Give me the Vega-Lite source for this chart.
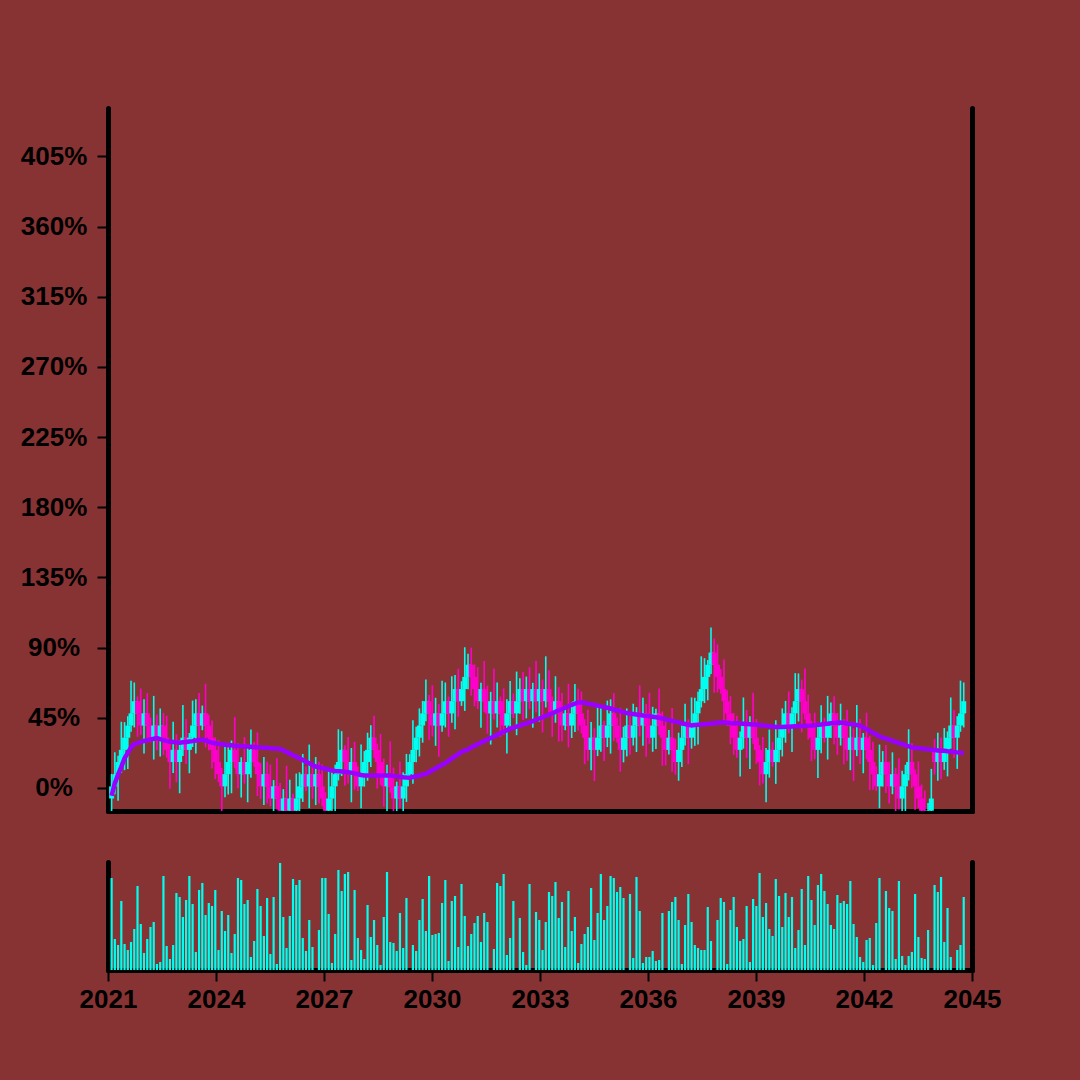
{
"$schema": "https://vega.github.io/schema/vega-lite/v6.json",
"background": "#883333",
"padding": {"left": 20, "top": 108, "right": 90, "bottom": 84},
"config": {
  "view": {"stroke": null},
  "axis": {"domainColor": "black", "domainWidth": 5, "domainCap": "round", "tickColor": "black", "tickWidth": 2, "tickSize": 11, "labelFont": "Liberation Sans", "labelFontWeight": "bold", "labelFontSize": 26, "labelColor": "black", "grid": false, "title": null, "zindex": 1, "labelFlush": false, "labelOverlap": false}
},
"datasets": {"d": [
{"t":2021.1,"o":-6.8,"c":1.0,"h":9.0,"l":-17.8,"v":92,"m":-5},
{"t":2021.19,"o":1.0,"c":8.8,"h":22.8,"l":-4.0,"v":31,"m":3},
{"t":2021.28,"o":8.8,"c":16.6,"h":20.6,"l":-8.2,"v":25,"m":8.5},
{"t":2021.37,"o":16.6,"c":24.4,"h":42.4,"l":9.6,"v":69,"m":13.5},
{"t":2021.46,"o":24.4,"c":32.2,"h":42.2,"l":11.4,"v":26,"m":19},
{"t":2021.55,"o":32.2,"c":40.0,"h":46.0,"l":12.2,"v":20,"m":22.5},
{"t":2021.64,"o":40.0,"c":47.8,"h":68.8,"l":36.0,"v":28,"m":26},
{"t":2021.73,"o":47.8,"c":55.6,"h":67.6,"l":38.8,"v":41,"m":28},
{"t":2021.82,"o":55.6,"c":47.8,"h":58.6,"l":32.8,"v":84,"m":28.8},
{"t":2021.91,"o":47.8,"c":40.0,"h":63.8,"l":34.0,"v":46,"m":29.5},
{"t":2022.0,"o":40.0,"c":47.8,"h":56.8,"l":22.0,"v":17,"m":30.1},
{"t":2022.09,"o":47.8,"c":40.0,"h":60.8,"l":30.0,"v":31,"m":30.6},
{"t":2022.18,"o":40.0,"c":32.2,"h":45.0,"l":29.2,"v":43,"m":31.1},
{"t":2022.27,"o":32.2,"c":40.0,"h":59.0,"l":18.2,"v":48,"m":31.5},
{"t":2022.36,"o":40.0,"c":32.2,"h":47.0,"l":24.2,"v":6,"m":32},
{"t":2022.45,"o":32.2,"c":40.0,"h":51.0,"l":20.2,"v":8,"m":31.3},
{"t":2022.54,"o":40.0,"c":32.2,"h":48.0,"l":21.2,"v":94,"m":30.7},
{"t":2022.63,"o":32.2,"c":24.4,"h":46.2,"l":19.4,"v":24,"m":30},
{"t":2022.72,"o":24.4,"c":16.6,"h":28.4,"l":-0.4,"v":11,"m":29.7},
{"t":2022.81,"o":16.6,"c":24.4,"h":42.4,"l":9.6,"v":25,"m":29.5},
{"t":2022.9,"o":24.4,"c":16.6,"h":34.4,"l":3.6,"v":77,"m":29.2},
{"t":2022.99,"o":16.6,"c":24.4,"h":30.4,"l":-3.4,"v":73,"m":29},
{"t":2023.08,"o":24.4,"c":32.2,"h":53.2,"l":20.4,"v":53,"m":29.3},
{"t":2023.17,"o":32.2,"c":24.4,"h":44.2,"l":15.4,"v":70,"m":29.5},
{"t":2023.26,"o":24.4,"c":32.2,"h":35.2,"l":9.4,"v":94,"m":29.8},
{"t":2023.35,"o":32.2,"c":40.0,"h":56.0,"l":26.2,"v":66,"m":30},
{"t":2023.44,"o":40.0,"c":47.8,"h":56.8,"l":22.0,"v":18,"m":30.4},
{"t":2023.53,"o":47.8,"c":40.0,"h":60.8,"l":30.0,"v":80,"m":30.7},
{"t":2023.62,"o":40.0,"c":47.8,"h":52.8,"l":37.0,"v":87,"m":31},
{"t":2023.71,"o":47.8,"c":40.0,"h":66.8,"l":26.0,"v":55,"m":30.4},
{"t":2023.8,"o":40.0,"c":32.2,"h":47.0,"l":24.2,"v":67,"m":29.7},
{"t":2023.89,"o":32.2,"c":24.4,"h":43.2,"l":12.4,"v":64,"m":29},
{"t":2023.98,"o":24.4,"c":16.6,"h":32.4,"l":5.6,"v":80,"m":28.7},
{"t":2024.07,"o":16.6,"c":8.8,"h":30.6,"l":3.8,"v":20,"m":28.3},
{"t":2024.16,"o":8.8,"c":1.0,"h":12.8,"l":-16.0,"v":59,"m":28},
{"t":2024.25,"o":1.0,"c":8.8,"h":26.8,"l":-6.0,"v":39,"m":27.7},
{"t":2024.34,"o":8.8,"c":16.6,"h":26.6,"l":-4.2,"v":55,"m":27.3},
{"t":2024.43,"o":16.6,"c":24.4,"h":30.4,"l":-3.4,"v":17,"m":27.3},
{"t":2024.52,"o":24.4,"c":16.6,"h":45.4,"l":12.6,"v":36,"m":27},
{"t":2024.61,"o":16.6,"c":8.8,"h":28.6,"l":-0.2,"v":92,"m":26.9},
{"t":2024.7,"o":8.8,"c":16.6,"h":19.6,"l":-6.2,"v":90,"m":26.8},
{"t":2024.79,"o":16.6,"c":8.8,"h":32.6,"l":2.8,"v":66,"m":26.6},
{"t":2024.88,"o":8.8,"c":16.6,"h":25.6,"l":-9.2,"v":70,"m":26.5},
{"t":2024.97,"o":16.6,"c":24.4,"h":37.4,"l":6.6,"v":13,"m":26.4},
{"t":2025.06,"o":24.4,"c":16.6,"h":29.4,"l":13.6,"v":29,"m":26.3},
{"t":2025.15,"o":16.6,"c":8.8,"h":35.6,"l":-5.2,"v":81,"m":26.1},
{"t":2025.24,"o":8.8,"c":1.0,"h":15.8,"l":-7.0,"v":64,"m":26},
{"t":2025.33,"o":1.0,"c":8.8,"h":19.8,"l":-11.0,"v":34,"m":25.8},
{"t":2025.42,"o":8.8,"c":1.0,"h":16.8,"l":-10.0,"v":72,"m":25.7},
{"t":2025.51,"o":1.0,"c":-6.8,"h":15.0,"l":-11.8,"v":16,"m":25.5},
{"t":2025.6,"o":-6.8,"c":1.0,"h":5.0,"l":-23.8,"v":73,"m":25.3},
{"t":2025.69,"o":1.0,"c":-6.8,"h":19.0,"l":-13.8,"v":6,"m":25.2},
{"t":2025.78,"o":-6.8,"c":-14.6,"h":3.2,"l":-27.6,"v":107,"m":25},
{"t":2025.87,"o":-14.6,"c":-6.8,"h":-0.8,"l":-34.6,"v":53,"m":24},
{"t":2025.96,"o":-6.8,"c":-14.6,"h":14.2,"l":-18.6,"v":22,"m":23},
{"t":2026.05,"o":-14.6,"c":-6.8,"h":5.2,"l":-23.6,"v":54,"m":22},
{"t":2026.14,"o":-6.8,"c":-14.6,"h":-3.8,"l":-29.6,"v":91,"m":21},
{"t":2026.23,"o":-14.6,"c":-6.8,"h":9.2,"l":-20.6,"v":85,"m":20},
{"t":2026.32,"o":-6.8,"c":1.0,"h":10.0,"l":-24.8,"v":90,"m":19},
{"t":2026.41,"o":1.0,"c":8.8,"h":21.8,"l":-9.0,"v":32,"m":17.9},
{"t":2026.5,"o":8.8,"c":1.0,"h":13.8,"l":-2.0,"v":19,"m":16.8},
{"t":2026.59,"o":1.0,"c":8.8,"h":27.8,"l":-13.0,"v":50,"m":15.8},
{"t":2026.68,"o":8.8,"c":1.0,"h":15.8,"l":-7.0,"v":23,"m":14.7},
{"t":2026.77,"o":1.0,"c":8.8,"h":19.8,"l":-11.0,"v":0,"m":13.7},
{"t":2026.86,"o":8.8,"c":1.0,"h":16.8,"l":-10.0,"v":40,"m":13.3},
{"t":2026.95,"o":1.0,"c":-6.8,"h":15.0,"l":-11.8,"v":92,"m":12.8},
{"t":2027.04,"o":-6.8,"c":-14.6,"h":-2.8,"l":-31.6,"v":92,"m":12.3},
{"t":2027.13,"o":-14.6,"c":-6.8,"h":11.2,"l":-21.6,"v":56,"m":11.8},
{"t":2027.22,"o":-6.8,"c":1.0,"h":11.0,"l":-19.8,"v":7,"m":11.2},
{"t":2027.31,"o":1.0,"c":8.8,"h":14.8,"l":-19.0,"v":36,"m":10.9},
{"t":2027.4,"o":8.8,"c":16.6,"h":37.6,"l":4.8,"v":100,"m":10.7},
{"t":2027.49,"o":16.6,"c":24.4,"h":36.4,"l":7.6,"v":79,"m":10.5},
{"t":2027.58,"o":24.4,"c":16.6,"h":27.4,"l":1.6,"v":96,"m":10.3},
{"t":2027.67,"o":16.6,"c":8.8,"h":32.6,"l":2.8,"v":98,"m":10.1},
{"t":2027.76,"o":8.8,"c":16.6,"h":25.6,"l":-9.2,"v":10,"m":9.8},
{"t":2027.85,"o":16.6,"c":8.8,"h":29.6,"l":-1.2,"v":80,"m":9.3},
{"t":2027.94,"o":8.8,"c":1.0,"h":13.8,"l":-2.0,"v":32,"m":8.8},
{"t":2028.03,"o":1.0,"c":8.8,"h":27.8,"l":-13.0,"v":20,"m":8.3},
{"t":2028.12,"o":8.8,"c":16.6,"h":23.6,"l":0.8,"v":11,"m":8},
{"t":2028.21,"o":16.6,"c":24.4,"h":35.4,"l":4.6,"v":65,"m":8},
{"t":2028.3,"o":24.4,"c":32.2,"h":40.2,"l":13.4,"v":33,"m":8},
{"t":2028.39,"o":32.2,"c":24.4,"h":46.2,"l":19.4,"v":50,"m":8},
{"t":2028.48,"o":24.4,"c":16.6,"h":28.4,"l":-0.4,"v":25,"m":8},
{"t":2028.57,"o":16.6,"c":8.8,"h":34.6,"l":1.8,"v":5,"m":8},
{"t":2028.66,"o":8.8,"c":1.0,"h":18.8,"l":-12.0,"v":53,"m":8},
{"t":2028.75,"o":1.0,"c":8.8,"h":14.8,"l":-19.0,"v":98,"m":8},
{"t":2028.84,"o":8.8,"c":1.0,"h":29.8,"l":-3.0,"v":28,"m":7.9},
{"t":2028.93,"o":1.0,"c":-6.8,"h":13.0,"l":-15.8,"v":27,"m":7.7},
{"t":2029.02,"o":-6.8,"c":1.0,"h":4.0,"l":-21.8,"v":19,"m":7.4},
{"t":2029.11,"o":1.0,"c":-6.8,"h":17.0,"l":-12.8,"v":57,"m":7.2},
{"t":2029.2,"o":-6.8,"c":1.0,"h":10.0,"l":-24.8,"v":22,"m":6.9},
{"t":2029.29,"o":1.0,"c":8.8,"h":21.8,"l":-9.0,"v":72,"m":6.7},
{"t":2029.38,"o":8.8,"c":16.6,"h":21.6,"l":5.8,"v":0,"m":6.6},
{"t":2029.47,"o":16.6,"c":24.4,"h":43.4,"l":2.6,"v":25,"m":7.0},
{"t":2029.56,"o":24.4,"c":32.2,"h":39.2,"l":16.4,"v":19,"m":7.5},
{"t":2029.65,"o":32.2,"c":40.0,"h":51.0,"l":20.2,"v":50,"m":8},
{"t":2029.74,"o":40.0,"c":47.8,"h":55.8,"l":29.0,"v":71,"m":8.5},
{"t":2029.83,"o":47.8,"c":55.6,"h":69.6,"l":42.8,"v":39,"m":9},
{"t":2029.92,"o":55.6,"c":47.8,"h":59.6,"l":30.8,"v":94,"m":10.2},
{"t":2030.01,"o":47.8,"c":40.0,"h":65.8,"l":33.0,"v":35,"m":11.3},
{"t":2030.1,"o":40.0,"c":47.8,"h":57.8,"l":27.0,"v":36,"m":12.5},
{"t":2030.19,"o":47.8,"c":40.0,"h":53.8,"l":20.0,"v":37,"m":13.7},
{"t":2030.28,"o":40.0,"c":47.8,"h":68.8,"l":36.0,"v":67,"m":14.8},
{"t":2030.37,"o":47.8,"c":55.6,"h":67.6,"l":38.8,"v":90,"m":16},
{"t":2030.46,"o":55.6,"c":47.8,"h":58.6,"l":32.8,"v":9,"m":17.4},
{"t":2030.55,"o":47.8,"c":55.6,"h":71.6,"l":41.8,"v":69,"m":18.9},
{"t":2030.64,"o":55.6,"c":63.4,"h":72.4,"l":37.6,"v":74,"m":20.3},
{"t":2030.73,"o":63.4,"c":55.6,"h":76.4,"l":45.6,"v":23,"m":21.7},
{"t":2030.82,"o":55.6,"c":63.4,"h":68.4,"l":52.6,"v":86,"m":23.1},
{"t":2030.91,"o":63.4,"c":71.2,"h":90.2,"l":49.4,"v":54,"m":23.9},
{"t":2031.0,"o":71.2,"c":79.0,"h":86.0,"l":63.2,"v":24,"m":24.6},
{"t":2031.09,"o":79.0,"c":71.2,"h":90.0,"l":59.2,"v":36,"m":26},
{"t":2031.18,"o":71.2,"c":63.4,"h":79.2,"l":52.4,"v":47,"m":27},
{"t":2031.27,"o":63.4,"c":55.6,"h":77.4,"l":50.6,"v":54,"m":28},
{"t":2031.36,"o":55.6,"c":63.4,"h":67.4,"l":38.6,"v":28,"m":29},
{"t":2031.45,"o":63.4,"c":55.6,"h":81.4,"l":48.6,"v":57,"m":30},
{"t":2031.54,"o":55.6,"c":47.8,"h":65.6,"l":34.8,"v":48,"m":31},
{"t":2031.63,"o":47.8,"c":55.6,"h":61.6,"l":27.8,"v":0,"m":32},
{"t":2031.72,"o":55.6,"c":47.8,"h":76.6,"l":43.8,"v":21,"m":33},
{"t":2031.81,"o":47.8,"c":55.6,"h":67.6,"l":38.8,"v":87,"m":34},
{"t":2031.9,"o":55.6,"c":47.8,"h":58.6,"l":32.8,"v":84,"m":35},
{"t":2031.99,"o":47.8,"c":40.0,"h":63.8,"l":34.0,"v":96,"m":36},
{"t":2032.08,"o":40.0,"c":47.8,"h":56.8,"l":22.0,"v":15,"m":37},
{"t":2032.17,"o":47.8,"c":55.6,"h":68.6,"l":37.8,"v":32,"m":38},
{"t":2032.26,"o":55.6,"c":47.8,"h":60.6,"l":44.8,"v":69,"m":38.7},
{"t":2032.35,"o":47.8,"c":55.6,"h":74.6,"l":33.8,"v":0,"m":39.3},
{"t":2032.44,"o":55.6,"c":63.4,"h":70.4,"l":47.6,"v":52,"m":40},
{"t":2032.53,"o":63.4,"c":55.6,"h":74.4,"l":43.6,"v":18,"m":40.7},
{"t":2032.62,"o":55.6,"c":63.4,"h":71.4,"l":44.6,"v":5,"m":41.3},
{"t":2032.71,"o":63.4,"c":55.6,"h":77.4,"l":50.6,"v":86,"m":42},
{"t":2032.8,"o":55.6,"c":63.4,"h":67.4,"l":38.6,"v":0,"m":42.8},
{"t":2032.89,"o":63.4,"c":55.6,"h":81.4,"l":48.6,"v":58,"m":43.7},
{"t":2032.98,"o":55.6,"c":63.4,"h":73.4,"l":42.6,"v":50,"m":44.5},
{"t":2033.07,"o":63.4,"c":55.6,"h":69.4,"l":35.6,"v":20,"m":45.3},
{"t":2033.16,"o":55.6,"c":63.4,"h":84.4,"l":51.6,"v":48,"m":46.2},
{"t":2033.25,"o":63.4,"c":55.6,"h":75.4,"l":46.6,"v":78,"m":47},
{"t":2033.34,"o":55.6,"c":47.8,"h":58.6,"l":32.8,"v":74,"m":47.9},
{"t":2033.43,"o":47.8,"c":55.6,"h":71.6,"l":41.8,"v":88,"m":48.8},
{"t":2033.52,"o":55.6,"c":47.8,"h":64.6,"l":29.8,"v":52,"m":49.7},
{"t":2033.61,"o":47.8,"c":40.0,"h":60.8,"l":30.0,"v":68,"m":50.6},
{"t":2033.7,"o":40.0,"c":47.8,"h":52.8,"l":37.0,"v":23,"m":51.5},
{"t":2033.79,"o":47.8,"c":40.0,"h":66.8,"l":26.0,"v":79,"m":52.4},
{"t":2033.88,"o":40.0,"c":47.8,"h":54.8,"l":32.0,"v":39,"m":53.3},
{"t":2033.97,"o":47.8,"c":55.6,"h":66.6,"l":35.8,"v":53,"m":54},
{"t":2034.06,"o":55.6,"c":47.8,"h":63.6,"l":36.8,"v":7,"m":54.7},
{"t":2034.15,"o":47.8,"c":40.0,"h":61.8,"l":35.0,"v":26,"m":54.9},
{"t":2034.24,"o":40.0,"c":32.2,"h":44.0,"l":15.2,"v":36,"m":54.5},
{"t":2034.33,"o":32.2,"c":24.4,"h":50.2,"l":17.4,"v":43,"m":54},
{"t":2034.42,"o":24.4,"c":32.2,"h":42.2,"l":11.4,"v":82,"m":53.6},
{"t":2034.51,"o":32.2,"c":24.4,"h":38.2,"l":4.4,"v":30,"m":53.2},
{"t":2034.6,"o":24.4,"c":32.2,"h":53.2,"l":20.4,"v":57,"m":52.8},
{"t":2034.69,"o":32.2,"c":40.0,"h":52.0,"l":23.2,"v":96,"m":52.3},
{"t":2034.78,"o":40.0,"c":32.2,"h":43.0,"l":17.2,"v":50,"m":51.9},
{"t":2034.87,"o":32.2,"c":40.0,"h":56.0,"l":26.2,"v":64,"m":51.4},
{"t":2034.96,"o":40.0,"c":47.8,"h":56.8,"l":22.0,"v":94,"m":50.9},
{"t":2035.05,"o":47.8,"c":40.0,"h":60.8,"l":30.0,"v":92,"m":50.3},
{"t":2035.14,"o":40.0,"c":32.2,"h":45.0,"l":29.2,"v":78,"m":49.8},
{"t":2035.23,"o":32.2,"c":24.4,"h":51.2,"l":10.4,"v":83,"m":49.2},
{"t":2035.32,"o":24.4,"c":32.2,"h":39.2,"l":16.4,"v":72,"m":48.6},
{"t":2035.41,"o":32.2,"c":40.0,"h":51.0,"l":20.2,"v":0,"m":48},
{"t":2035.5,"o":40.0,"c":32.2,"h":48.0,"l":21.2,"v":76,"m":47.7},
{"t":2035.59,"o":32.2,"c":40.0,"h":54.0,"l":27.2,"v":12,"m":47.4},
{"t":2035.68,"o":40.0,"c":47.8,"h":51.8,"l":23.0,"v":93,"m":47.1},
{"t":2035.77,"o":47.8,"c":40.0,"h":65.8,"l":33.0,"v":59,"m":46.8},
{"t":2035.86,"o":40.0,"c":47.8,"h":57.8,"l":27.0,"v":7,"m":46.5},
{"t":2035.95,"o":47.8,"c":40.0,"h":53.8,"l":20.0,"v":13,"m":46.2},
{"t":2036.04,"o":40.0,"c":32.2,"h":61.0,"l":28.2,"v":13,"m":45.9},
{"t":2036.13,"o":32.2,"c":40.0,"h":52.0,"l":23.2,"v":19,"m":45.6},
{"t":2036.22,"o":40.0,"c":47.8,"h":50.8,"l":25.0,"v":9,"m":45.3},
{"t":2036.31,"o":47.8,"c":40.0,"h":63.8,"l":34.0,"v":10,"m":45},
{"t":2036.4,"o":40.0,"c":32.2,"h":49.0,"l":14.2,"v":57,"m":44.5},
{"t":2036.49,"o":32.2,"c":24.4,"h":45.2,"l":14.4,"v":0,"m":44},
{"t":2036.58,"o":24.4,"c":32.2,"h":37.2,"l":21.4,"v":59,"m":43.5},
{"t":2036.67,"o":32.2,"c":24.4,"h":51.2,"l":10.4,"v":68,"m":43},
{"t":2036.76,"o":24.4,"c":16.6,"h":31.4,"l":8.6,"v":73,"m":42.5},
{"t":2036.85,"o":16.6,"c":24.4,"h":35.4,"l":4.6,"v":50,"m":42},
{"t":2036.94,"o":24.4,"c":32.2,"h":40.2,"l":13.4,"v":6,"m":41.5},
{"t":2037.03,"o":32.2,"c":40.0,"h":54.0,"l":27.2,"v":45,"m":41},
{"t":2037.12,"o":40.0,"c":32.2,"h":44.0,"l":15.2,"v":76,"m":40.5},
{"t":2037.21,"o":32.2,"c":40.0,"h":58.0,"l":25.2,"v":48,"m":40},
{"t":2037.3,"o":40.0,"c":47.8,"h":57.8,"l":27.0,"v":25,"m":40.3},
{"t":2037.39,"o":47.8,"c":55.6,"h":61.6,"l":27.8,"v":22,"m":40.5},
{"t":2037.48,"o":55.6,"c":63.4,"h":84.4,"l":51.6,"v":20,"m":40.7},
{"t":2037.57,"o":63.4,"c":71.2,"h":83.2,"l":54.4,"v":20,"m":40.9},
{"t":2037.66,"o":71.2,"c":79.0,"h":82.0,"l":56.2,"v":63,"m":41},
{"t":2037.75,"o":79.0,"c":86.8,"h":102.8,"l":73.0,"v":29,"m":41.3},
{"t":2037.84,"o":86.8,"c":79.0,"h":95.8,"l":61.0,"v":0,"m":41.5},
{"t":2037.93,"o":79.0,"c":71.2,"h":92.0,"l":61.2,"v":50,"m":41.8},
{"t":2038.02,"o":71.2,"c":63.4,"h":76.2,"l":60.4,"v":72,"m":42},
{"t":2038.11,"o":63.4,"c":55.6,"h":82.4,"l":41.6,"v":68,"m":41.9},
{"t":2038.2,"o":55.6,"c":47.8,"h":62.6,"l":39.8,"v":6,"m":41.8},
{"t":2038.29,"o":47.8,"c":40.0,"h":58.8,"l":28.0,"v":60,"m":41.6},
{"t":2038.38,"o":40.0,"c":32.2,"h":48.0,"l":21.2,"v":73,"m":41.5},
{"t":2038.47,"o":32.2,"c":24.4,"h":46.2,"l":19.4,"v":43,"m":41.4},
{"t":2038.56,"o":24.4,"c":32.2,"h":36.2,"l":7.4,"v":29,"m":41.3},
{"t":2038.65,"o":32.2,"c":40.0,"h":58.0,"l":25.2,"v":31,"m":41.2},
{"t":2038.74,"o":40.0,"c":32.2,"h":50.0,"l":19.2,"v":64,"m":41},
{"t":2038.83,"o":32.2,"c":40.0,"h":46.0,"l":12.2,"v":8,"m":40.9},
{"t":2038.92,"o":40.0,"c":32.2,"h":61.0,"l":28.2,"v":71,"m":40.7},
{"t":2039.01,"o":32.2,"c":24.4,"h":44.2,"l":15.4,"v":64,"m":40.5},
{"t":2039.1,"o":24.4,"c":16.6,"h":27.4,"l":1.6,"v":97,"m":40.3},
{"t":2039.19,"o":16.6,"c":8.8,"h":32.6,"l":2.8,"v":53,"m":40.1},
{"t":2039.28,"o":8.8,"c":16.6,"h":25.6,"l":-9.2,"v":67,"m":39.8},
{"t":2039.37,"o":16.6,"c":24.4,"h":37.4,"l":6.6,"v":41,"m":39.6},
{"t":2039.46,"o":24.4,"c":16.6,"h":29.4,"l":13.6,"v":34,"m":39.4},
{"t":2039.55,"o":16.6,"c":24.4,"h":43.4,"l":2.6,"v":91,"m":39.1},
{"t":2039.64,"o":24.4,"c":32.2,"h":39.2,"l":16.4,"v":74,"m":39},
{"t":2039.73,"o":32.2,"c":40.0,"h":51.0,"l":20.2,"v":43,"m":39.1},
{"t":2039.82,"o":40.0,"c":47.8,"h":55.8,"l":29.0,"v":77,"m":39.2},
{"t":2039.91,"o":47.8,"c":40.0,"h":61.8,"l":35.0,"v":53,"m":39.3},
{"t":2040.0,"o":40.0,"c":47.8,"h":51.8,"l":23.0,"v":73,"m":39.4},
{"t":2040.09,"o":47.8,"c":55.6,"h":73.6,"l":40.8,"v":22,"m":39.5},
{"t":2040.18,"o":55.6,"c":63.4,"h":73.4,"l":42.6,"v":40,"m":39.6},
{"t":2040.27,"o":63.4,"c":55.6,"h":69.4,"l":35.6,"v":81,"m":39.7},
{"t":2040.36,"o":55.6,"c":47.8,"h":76.6,"l":43.8,"v":25,"m":39.8},
{"t":2040.45,"o":47.8,"c":40.0,"h":59.8,"l":31.0,"v":94,"m":39.9},
{"t":2040.54,"o":40.0,"c":32.2,"h":43.0,"l":17.2,"v":70,"m":40},
{"t":2040.63,"o":32.2,"c":24.4,"h":48.2,"l":18.4,"v":45,"m":40.2},
{"t":2040.72,"o":24.4,"c":32.2,"h":41.2,"l":6.4,"v":85,"m":40.5},
{"t":2040.81,"o":32.2,"c":40.0,"h":53.0,"l":22.2,"v":96,"m":40.7},
{"t":2040.9,"o":40.0,"c":32.2,"h":45.0,"l":29.2,"v":79,"m":41},
{"t":2040.99,"o":32.2,"c":40.0,"h":59.0,"l":18.2,"v":66,"m":41.2},
{"t":2041.08,"o":40.0,"c":47.8,"h":54.8,"l":32.0,"v":45,"m":41.4},
{"t":2041.17,"o":47.8,"c":40.0,"h":58.8,"l":28.0,"v":41,"m":41.6},
{"t":2041.26,"o":40.0,"c":32.2,"h":48.0,"l":21.2,"v":75,"m":41.8},
{"t":2041.35,"o":32.2,"c":40.0,"h":54.0,"l":27.2,"v":67,"m":42},
{"t":2041.44,"o":40.0,"c":32.2,"h":44.0,"l":15.2,"v":69,"m":41.7},
{"t":2041.53,"o":32.2,"c":24.4,"h":50.2,"l":17.4,"v":66,"m":41.3},
{"t":2041.62,"o":24.4,"c":32.2,"h":42.2,"l":11.4,"v":89,"m":41},
{"t":2041.71,"o":32.2,"c":24.4,"h":38.2,"l":4.4,"v":46,"m":40.7},
{"t":2041.8,"o":24.4,"c":32.2,"h":53.2,"l":20.4,"v":33,"m":40.3},
{"t":2041.89,"o":32.2,"c":24.4,"h":44.2,"l":15.4,"v":13,"m":40},
{"t":2041.98,"o":24.4,"c":32.2,"h":35.2,"l":9.4,"v":8,"m":38.8},
{"t":2042.07,"o":32.2,"c":24.4,"h":48.2,"l":18.4,"v":30,"m":37.7},
{"t":2042.16,"o":24.4,"c":16.6,"h":33.4,"l":-1.4,"v":32,"m":36.5},
{"t":2042.25,"o":16.6,"c":8.8,"h":29.6,"l":-1.2,"v":5,"m":35.3},
{"t":2042.34,"o":8.8,"c":1.0,"h":13.8,"l":-2.0,"v":47,"m":34.2},
{"t":2042.43,"o":1.0,"c":8.8,"h":27.8,"l":-13.0,"v":92,"m":33},
{"t":2042.52,"o":8.8,"c":16.6,"h":23.6,"l":0.8,"v":0,"m":32.3},
{"t":2042.61,"o":16.6,"c":8.8,"h":27.6,"l":-3.2,"v":79,"m":31.6},
{"t":2042.7,"o":8.8,"c":1.0,"h":16.8,"l":-10.0,"v":62,"m":30.9},
{"t":2042.79,"o":1.0,"c":8.8,"h":22.8,"l":-4.0,"v":59,"m":30.2},
{"t":2042.88,"o":8.8,"c":1.0,"h":12.8,"l":-16.0,"v":11,"m":29.5},
{"t":2042.97,"o":1.0,"c":-6.8,"h":19.0,"l":-13.8,"v":89,"m":28.8},
{"t":2043.06,"o":-6.8,"c":1.0,"h":11.0,"l":-19.8,"v":14,"m":28.1},
{"t":2043.15,"o":1.0,"c":8.8,"h":14.8,"l":-19.0,"v":5,"m":27.4},
{"t":2043.24,"o":8.8,"c":16.6,"h":37.6,"l":4.8,"v":14,"m":26.7},
{"t":2043.33,"o":16.6,"c":8.8,"h":28.6,"l":-0.2,"v":18,"m":26},
{"t":2043.42,"o":8.8,"c":1.0,"h":11.8,"l":-14.0,"v":76,"m":25.8},
{"t":2043.51,"o":1.0,"c":-6.8,"h":17.0,"l":-12.8,"v":33,"m":25.5},
{"t":2043.6,"o":-6.8,"c":-14.6,"h":2.2,"l":-32.6,"v":12,"m":25.3},
{"t":2043.69,"o":-14.6,"c":-22.4,"h":-1.6,"l":-32.4,"v":11,"m":25},
{"t":2043.78,"o":-22.4,"c":-14.6,"h":-9.6,"l":-25.4,"v":40,"m":24.8},
{"t":2043.87,"o":-14.6,"c":-6.8,"h":12.2,"l":-28.6,"v":0,"m":24.5},
{"t":2043.96,"o":24.4,"c":16.6,"h":31.4,"l":8.6,"v":85,"m":24.3},
{"t":2044.05,"o":16.6,"c":24.4,"h":35.4,"l":4.6,"v":78,"m":24},
{"t":2044.14,"o":24.4,"c":16.6,"h":32.4,"l":5.6,"v":93,"m":23.9},
{"t":2044.23,"o":16.6,"c":24.4,"h":38.4,"l":11.6,"v":28,"m":23.8},
{"t":2044.32,"o":24.4,"c":32.2,"h":36.2,"l":7.4,"v":62,"m":23.5},
{"t":2044.41,"o":32.2,"c":40.0,"h":58.0,"l":25.2,"v":13,"m":23.3},
{"t":2044.5,"o":40.0,"c":32.2,"h":50.0,"l":19.2,"v":0,"m":23.1},
{"t":2044.59,"o":32.2,"c":40.0,"h":46.0,"l":12.2,"v":20,"m":22.8},
{"t":2044.68,"o":40.0,"c":47.8,"h":68.8,"l":36.0,"v":25,"m":22.6},
{"t":2044.77,"o":47.8,"c":55.6,"h":67.6,"l":38.8,"v":73,"m":22.3}
]},
"spacing": 49,
"vconcat": [
  {
    "width": 864, "height": 703,
    "data": {"name": "d"},
    "encoding": {
      "x": {"field": "t", "type": "quantitative", "scale": {"domain": [2021, 2045], "nice": false, "zero": false, "padding": 0}, "axis": {"labels": false, "ticks": false}}
    },
    "layer": [
      {
        "mark": {"type": "rule", "strokeWidth": 1.6, "clip": true},
        "encoding": {
          "y": {"field": "l", "type": "quantitative", "scale": {"domain": [-14.8, 436], "nice": false, "zero": false},
                "axis": {"values": [0, 45, 90, 135, 180, 225, 270, 315, 360, 405], "labelExpr": "datum.value + '%'", "labelAlign": "center", "labelPadding": 43.5}},
          "y2": {"field": "h"},
          "color": {"condition": {"test": "datum.c >= datum.o", "value": "#00ffee"}, "value": "#ff00cc"}
        }
      },
      {
        "mark": {"type": "bar", "size": 5, "clip": true},
        "encoding": {
          "y": {"field": "o", "type": "quantitative", "axis": null},
          "y2": {"field": "c"},
          "color": {"condition": {"test": "datum.c >= datum.o", "value": "#00ffee"}, "value": "#ff00cc"}
        }
      },
      {
        "mark": {"type": "line", "color": "#9900ff", "strokeWidth": 4.5, "clip": true},
        "encoding": {
          "y": {"field": "m", "type": "quantitative", "axis": {"orient": "right", "labels": false, "ticks": false}}
        }
      }
    ],
    "resolve": {"axis": {"y": "independent"}}
  },
  {
    "width": 864, "height": 108,
    "data": {"name": "d"},
    "encoding": {
      "x": {"field": "t", "type": "quantitative", "scale": {"domain": [2021, 2045], "nice": false, "zero": false, "padding": 0},
            "axis": {"values": [2021, 2024, 2027, 2030, 2033, 2036, 2039, 2042, 2045], "format": "d", "labelPadding": 5}}
    },
    "layer": [
      {
        "mark": {"type": "bar", "size": 2.2, "color": "#00ffee", "clip": true},
        "encoding": {
          "y": {"field": "v", "type": "quantitative", "scale": {"domain": [0, 108], "nice": false}, "axis": {"labels": false, "ticks": false}}
        }
      },
      {
        "mark": {"type": "point", "opacity": 0},
        "encoding": {
          "y": {"field": "v", "type": "quantitative", "axis": {"orient": "right", "labels": false, "ticks": false}}
        }
      }
    ],
    "resolve": {"axis": {"y": "independent"}}
  }
]
}
